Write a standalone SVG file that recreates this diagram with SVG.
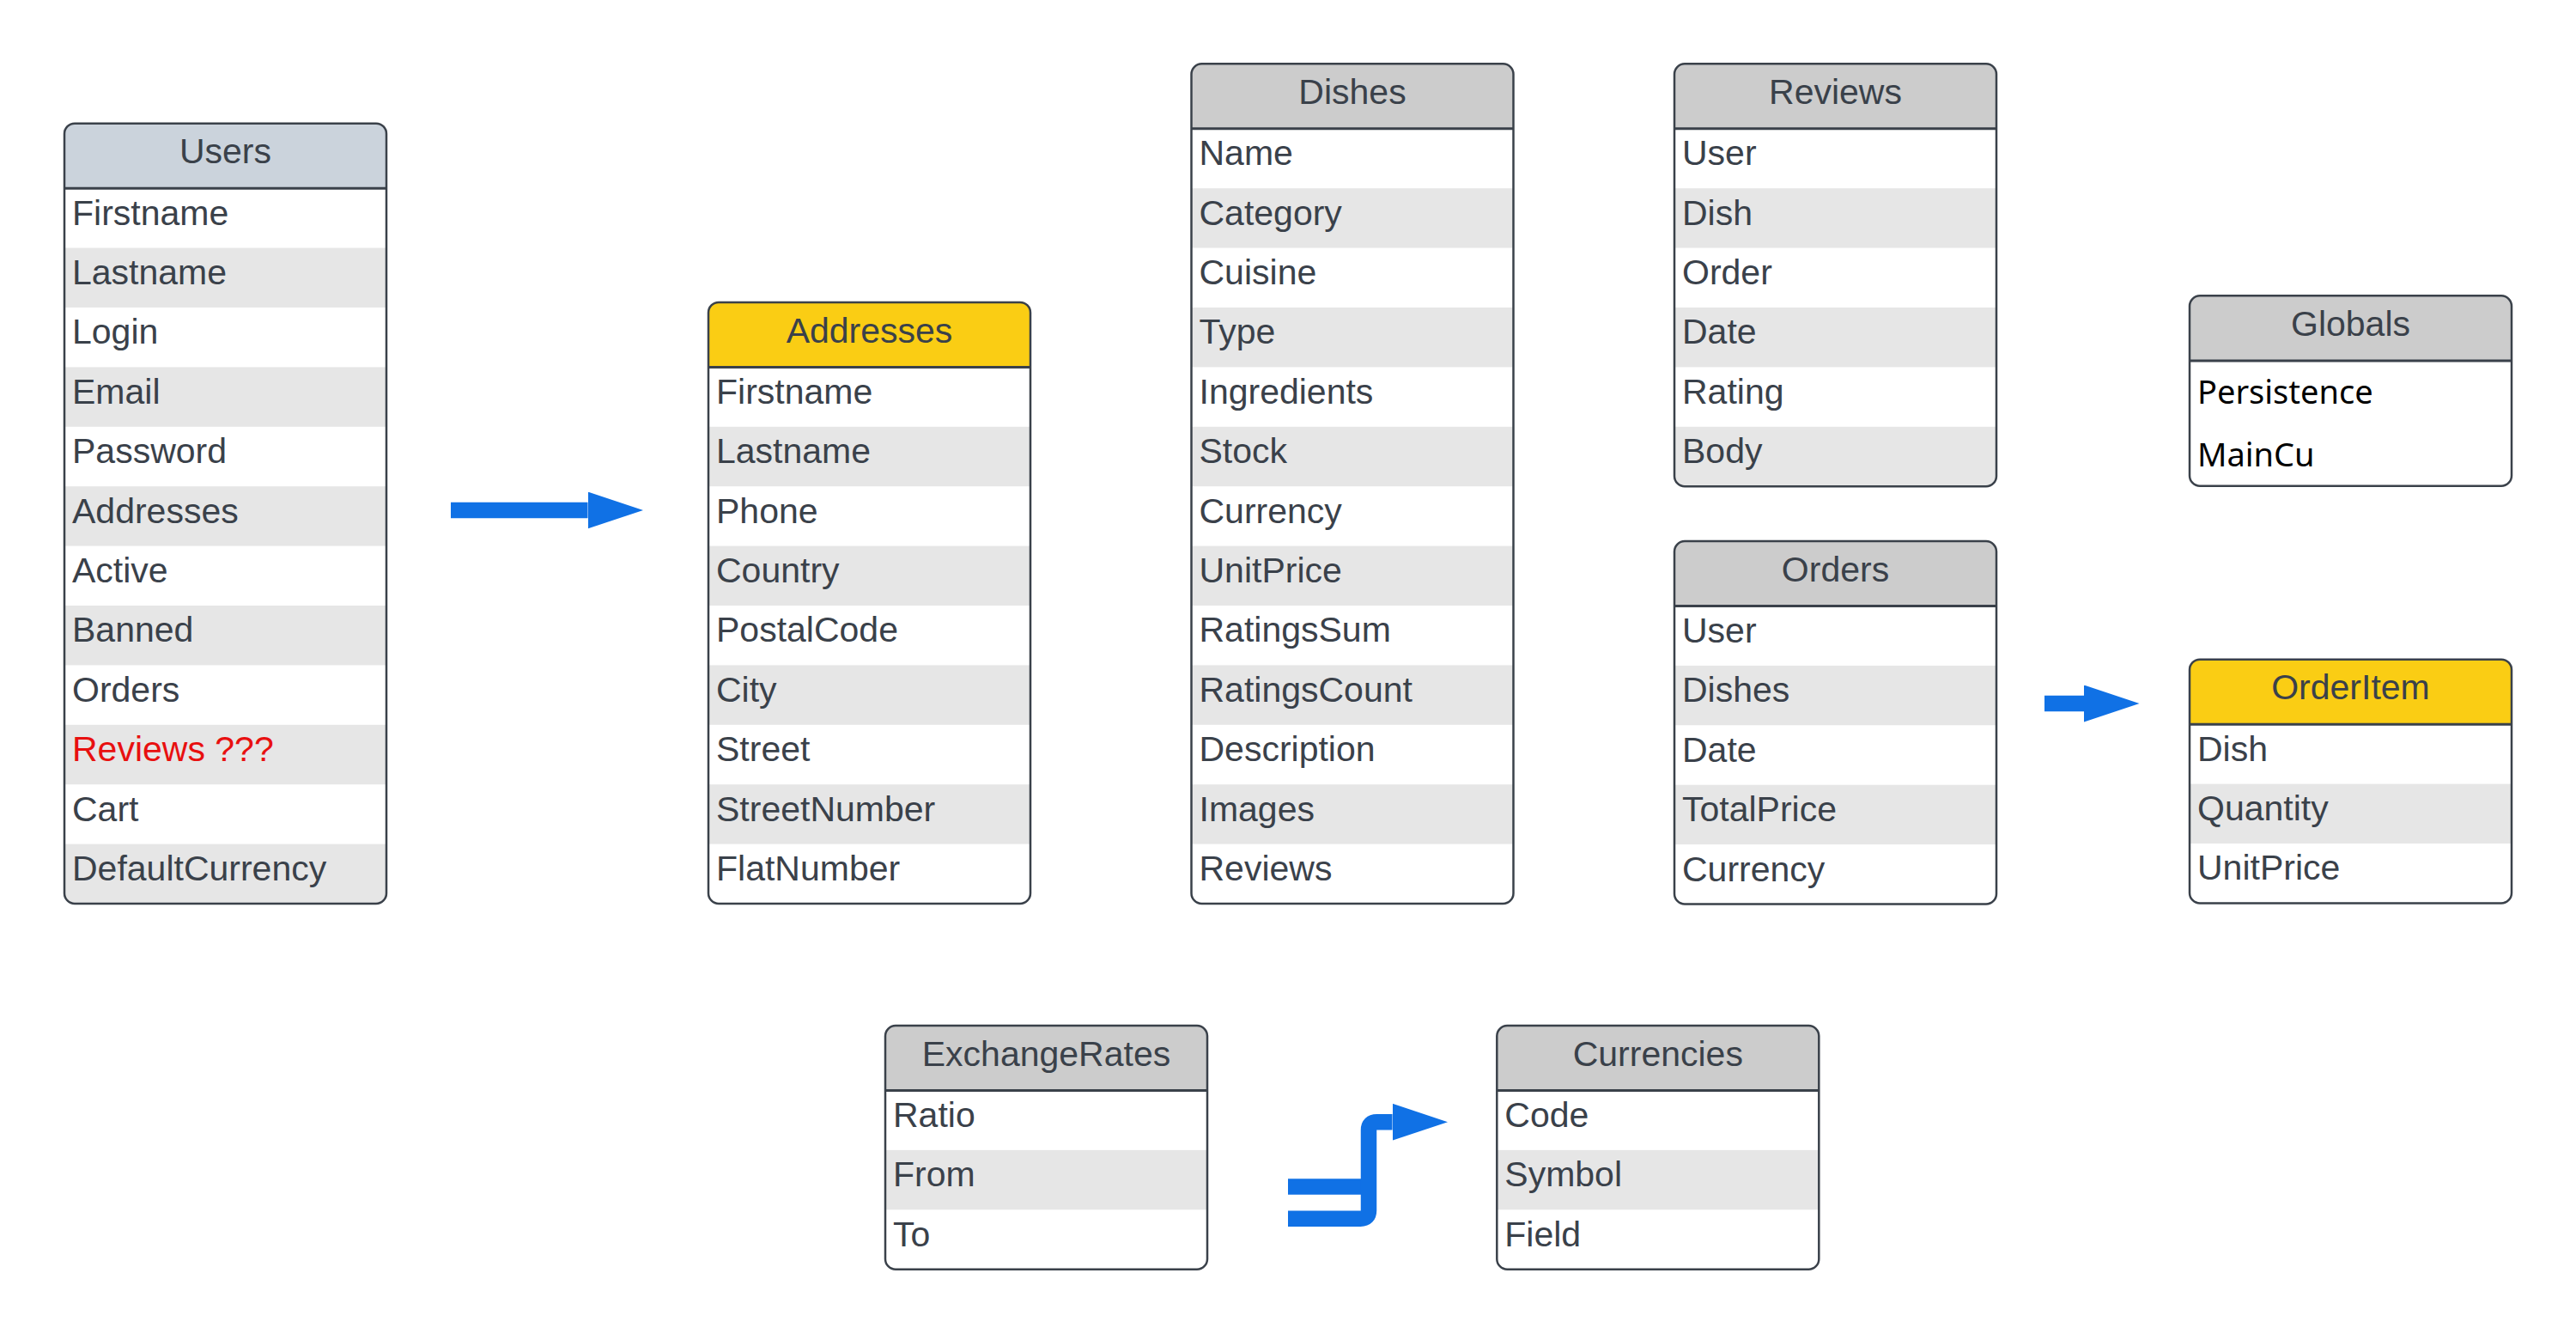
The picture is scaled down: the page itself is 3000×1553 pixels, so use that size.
<svg xmlns="http://www.w3.org/2000/svg" width="3000" height="1553" viewBox="0 0 3000 1553">
<style>
.bg{fill:#FFFFFF}
.body{fill:#FFFFFF}
.alt{fill:#E6E6E6}
.hg{fill:#CCCCCC}
.hb{fill:#CBD3DC}
.hy{fill:#FACD14}
.frame{fill:none;stroke:#3A414A;stroke-width:2.5}
.sep{stroke:#3A414A;stroke-width:3}
.title{font-family:"Liberation Sans",Arial,sans-serif;font-size:41px;fill:#3A414A;text-anchor:middle}
.f{font-family:"Liberation Sans",Arial,sans-serif;font-size:41px;fill:#3A414A}
.red{fill:#E81010}
.g{font-family:"Noto Sans","Open Sans",sans-serif;font-size:38px;fill:#000000}
.conn{fill:none;stroke:#1071E5;stroke-width:18.5}
</style>
<defs>
<clipPath id="c3"><rect width="375" height="283.7" rx="12"/></clipPath>
<clipPath id="c5"><rect width="375" height="422.5" rx="12"/></clipPath>
<clipPath id="c6"><rect width="375" height="491.9" rx="12"/></clipPath>
<clipPath id="c9"><rect width="375" height="700.1" rx="12"/></clipPath>
<clipPath id="c12"><rect width="375" height="908.3" rx="12"/></clipPath>
<clipPath id="c13"><rect width="375" height="977.7" rx="12"/></clipPath>
<clipPath id="cg"><rect width="375" height="221.4" rx="12"/></clipPath>
<marker id="head" markerUnits="userSpaceOnUse" markerWidth="66" markerHeight="44" refX="0" refY="21.5" orient="auto" viewBox="0 0 66 44">
<path d="M0,0 L64.5,21.5 L0,43 Z" fill="#1071E5"/>
</marker>
</defs>
<rect class="bg" width="3000" height="1553"/>

<g id="users" transform="translate(75,143.7)">
<g clip-path="url(#c12)">
<rect class="body" width="375" height="908.3"/>
<rect class="hb" width="375" height="75.5"/>
<rect class="alt" y="144.9" width="375" height="69.4"/>
<rect class="alt" y="283.7" width="375" height="69.4"/>
<rect class="alt" y="422.5" width="375" height="69.4"/>
<rect class="alt" y="561.3" width="375" height="69.4"/>
<rect class="alt" y="700.1" width="375" height="69.4"/>
<rect class="alt" y="838.9" width="375" height="69.4"/>
</g>
<line class="sep" x1="0" y1="75.5" x2="375" y2="75.5"/>
<rect class="frame" width="375" height="908.3" rx="12"/>
<text class="title" x="187.5" y="46.7">Users</text>
<text class="f" x="9" y="118">Firstname</text>
<text class="f" x="9" y="187.4">Lastname</text>
<text class="f" x="9" y="256.8">Login</text>
<text class="f" x="9" y="326.2">Email</text>
<text class="f" x="9" y="395.6">Password</text>
<text class="f" x="9" y="465">Addresses</text>
<text class="f" x="9" y="534.4">Active</text>
<text class="f" x="9" y="603.8">Banned</text>
<text class="f" x="9" y="673.2">Orders</text>
<text class="f red" x="9" y="742.6">Reviews ???</text>
<text class="f" x="9" y="812">Cart</text>
<text class="f" x="9" y="881.4">DefaultCurrency</text>
</g>

<g id="addresses" transform="translate(825,351.9)">
<g clip-path="url(#c9)">
<rect class="body" width="375" height="700.1"/>
<rect class="hy" width="375" height="75.5"/>
<rect class="alt" y="144.9" width="375" height="69.4"/>
<rect class="alt" y="283.7" width="375" height="69.4"/>
<rect class="alt" y="422.5" width="375" height="69.4"/>
<rect class="alt" y="561.3" width="375" height="69.4"/>
</g>
<line class="sep" x1="0" y1="75.5" x2="375" y2="75.5"/>
<rect class="frame" width="375" height="700.1" rx="12"/>
<text class="title" x="187.5" y="46.7">Addresses</text>
<text class="f" x="9" y="118">Firstname</text>
<text class="f" x="9" y="187.4">Lastname</text>
<text class="f" x="9" y="256.8">Phone</text>
<text class="f" x="9" y="326.2">Country</text>
<text class="f" x="9" y="395.6">PostalCode</text>
<text class="f" x="9" y="465">City</text>
<text class="f" x="9" y="534.4">Street</text>
<text class="f" x="9" y="603.8">StreetNumber</text>
<text class="f" x="9" y="673.2">FlatNumber</text>
</g>

<g id="dishes" transform="translate(1387.5,74.3)">
<g clip-path="url(#c13)">
<rect class="body" width="375" height="977.7"/>
<rect class="hg" width="375" height="75.5"/>
<rect class="alt" y="144.9" width="375" height="69.4"/>
<rect class="alt" y="283.7" width="375" height="69.4"/>
<rect class="alt" y="422.5" width="375" height="69.4"/>
<rect class="alt" y="561.3" width="375" height="69.4"/>
<rect class="alt" y="700.1" width="375" height="69.4"/>
<rect class="alt" y="838.9" width="375" height="69.4"/>
</g>
<line class="sep" x1="0" y1="75.5" x2="375" y2="75.5"/>
<rect class="frame" width="375" height="977.7" rx="12"/>
<text class="title" x="187.5" y="46.7">Dishes</text>
<text class="f" x="9" y="118">Name</text>
<text class="f" x="9" y="187.4">Category</text>
<text class="f" x="9" y="256.8">Cuisine</text>
<text class="f" x="9" y="326.2">Type</text>
<text class="f" x="9" y="395.6">Ingredients</text>
<text class="f" x="9" y="465">Stock</text>
<text class="f" x="9" y="534.4">Currency</text>
<text class="f" x="9" y="603.8">UnitPrice</text>
<text class="f" x="9" y="673.2">RatingsSum</text>
<text class="f" x="9" y="742.6">RatingsCount</text>
<text class="f" x="9" y="812">Description</text>
<text class="f" x="9" y="881.4">Images</text>
<text class="f" x="9" y="950.8">Reviews</text>
</g>

<g id="reviews" transform="translate(1950,74.3)">
<g clip-path="url(#c6)">
<rect class="body" width="375" height="491.9"/>
<rect class="hg" width="375" height="75.5"/>
<rect class="alt" y="144.9" width="375" height="69.4"/>
<rect class="alt" y="283.7" width="375" height="69.4"/>
<rect class="alt" y="422.5" width="375" height="69.4"/>
</g>
<line class="sep" x1="0" y1="75.5" x2="375" y2="75.5"/>
<rect class="frame" width="375" height="491.9" rx="12"/>
<text class="title" x="187.5" y="46.7">Reviews</text>
<text class="f" x="9" y="118">User</text>
<text class="f" x="9" y="187.4">Dish</text>
<text class="f" x="9" y="256.8">Order</text>
<text class="f" x="9" y="326.2">Date</text>
<text class="f" x="9" y="395.6">Rating</text>
<text class="f" x="9" y="465">Body</text>
</g>

<g id="orders" transform="translate(1950,630)">
<g clip-path="url(#c5)">
<rect class="body" width="375" height="422.5"/>
<rect class="hg" width="375" height="75.5"/>
<rect class="alt" y="144.9" width="375" height="69.4"/>
<rect class="alt" y="283.7" width="375" height="69.4"/>
</g>
<line class="sep" x1="0" y1="75.5" x2="375" y2="75.5"/>
<rect class="frame" width="375" height="422.5" rx="12"/>
<text class="title" x="187.5" y="46.7">Orders</text>
<text class="f" x="9" y="118">User</text>
<text class="f" x="9" y="187.4">Dishes</text>
<text class="f" x="9" y="256.8">Date</text>
<text class="f" x="9" y="326.2">TotalPrice</text>
<text class="f" x="9" y="395.6">Currency</text>
</g>

<g id="globals" transform="translate(2550,344.3)">
<g clip-path="url(#cg)">
<rect class="body" width="375" height="221.4"/>
<rect class="hg" width="375" height="75.7"/>
</g>
<line class="sep" x1="0" y1="75.7" x2="375" y2="75.7"/>
<rect class="frame" width="375" height="221.4" rx="12"/>
<text class="title" x="187.5" y="46.7">Globals</text>
<text class="g" x="9" y="125.7">Persistence</text>
<text class="g" x="9" y="199">MainCu</text>
</g>

<g id="orderitem" transform="translate(2550,767.7)">
<g clip-path="url(#c3)">
<rect class="body" width="375" height="283.7"/>
<rect class="hy" width="375" height="75.5"/>
<rect class="alt" y="144.9" width="375" height="69.4"/>
</g>
<line class="sep" x1="0" y1="75.5" x2="375" y2="75.5"/>
<rect class="frame" width="375" height="283.7" rx="12"/>
<text class="title" x="187.5" y="46.7">OrderItem</text>
<text class="f" x="9" y="118">Dish</text>
<text class="f" x="9" y="187.4">Quantity</text>
<text class="f" x="9" y="256.8">UnitPrice</text>
</g>

<g id="exchangerates" transform="translate(1031,1194)">
<g clip-path="url(#c3)">
<rect class="body" width="375" height="283.7"/>
<rect class="hg" width="375" height="75.5"/>
<rect class="alt" y="144.9" width="375" height="69.4"/>
</g>
<line class="sep" x1="0" y1="75.5" x2="375" y2="75.5"/>
<rect class="frame" width="375" height="283.7" rx="12"/>
<text class="title" x="187.5" y="46.7">ExchangeRates</text>
<text class="f" x="9" y="118">Ratio</text>
<text class="f" x="9" y="187.4">From</text>
<text class="f" x="9" y="256.8">To</text>
</g>

<g id="currencies" transform="translate(1743.3,1194)">
<g clip-path="url(#c3)">
<rect class="body" width="375" height="283.7"/>
<rect class="hg" width="375" height="75.5"/>
<rect class="alt" y="144.9" width="375" height="69.4"/>
</g>
<line class="sep" x1="0" y1="75.5" x2="375" y2="75.5"/>
<rect class="frame" width="375" height="283.7" rx="12"/>
<text class="title" x="187.5" y="46.7">Currencies</text>
<text class="f" x="9" y="118">Code</text>
<text class="f" x="9" y="187.4">Symbol</text>
<text class="f" x="9" y="256.8">Field</text>
</g>

<g id="connectors">
<path class="conn" d="M525,594 H684.5" marker-end="url(#head)"/>
<path class="conn" d="M2381,819 H2427" marker-end="url(#head)"/>
<path class="conn" d="M1500,1381.5 H1594"/>
<path class="conn" d="M1500,1418.7 H1584.5 Q1594,1418.7 1594,1409.2 V1315.5 Q1594,1306.2 1603.5,1306.2 H1621.5" marker-end="url(#head)"/>
</g>
</svg>
